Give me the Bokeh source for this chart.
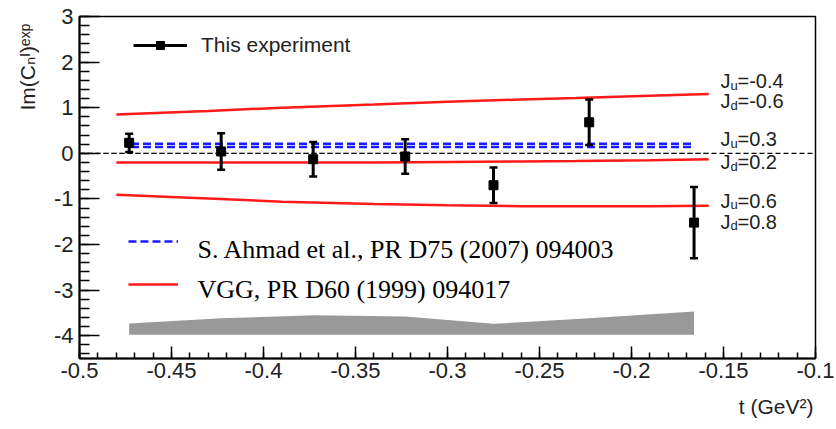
import math
from bokeh.plotting import figure
from bokeh.models import (Range1d, FixedTicker, Span, Label, Legend, LegendItem,
                          ColumnDataSource, Title)
from bokeh.embed import file_html
from bokeh.resources import INLINE

# ---------------- data ----------------
t = [-0.473, -0.423, -0.373, -0.323, -0.275, -0.223, -0.166]
im_c = [0.23, 0.04, -0.13, -0.07, -0.70, 0.68, -1.52]
im_err = [0.20, 0.40, 0.38, 0.38, 0.39, 0.50, 0.78]
sys_lo = [-3.98, -3.98, -3.98, -3.98, -3.98, -3.98, -3.98]
sys_hi = [-3.73, -3.62, -3.55, -3.58, -3.74, -3.62, -3.47]

vgg_t = [-0.48, -0.43, -0.39, -0.34, -0.30, -0.26, -0.23, -0.19, -0.158]
vgg_upper = [0.85, 0.93, 1.00, 1.07, 1.13, 1.18, 1.21, 1.26, 1.30]
vgg_middle = [-0.20, -0.20, -0.20, -0.20, -0.19, -0.18, -0.17, -0.15, -0.13]
vgg_lower = [-0.91, -0.99, -1.06, -1.11, -1.14, -1.16, -1.16, -1.16, -1.15]

ahmad_t = [-0.472, -0.166]
ahmad_a = [0.21, 0.21]
ahmad_b = [0.14, 0.14]

zero_t = [-0.5, -0.157]
zero_v = [0.0, 0.0]

xticks = [-0.5, -0.45, -0.4, -0.35, -0.3, -0.25, -0.2, -0.15, -0.1]
xtick_labels = ["-0.5", "-0.45", "-0.4", "-0.35", "-0.3", "-0.25", "-0.2", "-0.15", "-0.1"]
yticks = [-4, -3, -2, -1, 0, 1, 2, 3]
ytick_labels = ["-4", "-3", "-2", "-1", "0", "1", "2", "3"]

j_labels = [("u", "=-0.4"), ("d", "=-0.6"), ("u", "=0.3"), ("d", "=0.2"),
            ("u", "=0.6"), ("d", "=0.8")]

legend_texts = ["S. Ahmad et al., PR D75 (2007) 094003", "VGG, PR D60 (1999) 094017"]
y_title = "Im(C\u2099\u1d35)\u1d49\u02e3\u1d56"
x_title = "t (GeV\u00b2)"

# ---------------- geometry ----------------
X0, X1, Y0, Y1 = -0.5, -0.1, -4.5, 3.0
FL, FR, FT, FB = 79, 815, 16, 359   # frame in page pixels
FW, FH = FR - FL, FB - FT
W, H = 836, 429


def px_x(px):
    return X0 + (px - FL) / FW * (X1 - X0)


def px_y(py):
    return Y1 - (py - FT) / FH * (Y1 - Y0)


p = figure(width=W, height=H, output_backend="svg", toolbar_location=None,
           title_location=None,
           x_range=Range1d(X0, X1), y_range=Range1d(Y0, Y1),
           min_border_left=FL, min_border_right=W - FL - FW,
           min_border_top=FT, min_border_bottom=H - FT - FH)
p.grid.visible = False
p.outline_line_color = "black"
p.outline_line_width = 1.5
p.background_fill_color = "white"
p.border_fill_color = "white"

xminor = [round(-0.5 + 0.01 * i, 2) for i in range(41)]
yminor = [round(-4.4 + 0.2 * i, 1) for i in range(38)]
p.xaxis.ticker = FixedTicker(ticks=xticks, minor_ticks=xminor)
p.yaxis.ticker = FixedTicker(ticks=yticks, minor_ticks=yminor)
p.xaxis.major_label_overrides = dict(zip(xticks, xtick_labels))
p.yaxis.major_label_overrides = dict(zip(yticks, ytick_labels))

for ax in (p.xaxis, p.yaxis):
    ax.axis_line_width = 2
    ax.major_tick_line_width = 1.5
    ax.minor_tick_line_width = 1.5
    ax.major_tick_out = 0
    ax.minor_tick_out = 0
    ax.major_label_text_font = "Liberation Sans"
    ax.major_label_text_font_size = "22px"
    ax.major_label_text_color = "#222222"
p.xaxis.major_tick_in = 12
p.xaxis.minor_tick_in = 6
p.yaxis.major_tick_in = 20
p.yaxis.minor_tick_in = 10
p.xaxis.major_label_standoff = 4
p.yaxis.major_label_standoff = 6

# axis titles (outside the frame, ROOT style: at the far ends)
p.add_layout(Title(text=y_title, align="right", offset=7, standoff=24,
                   vertical_align="bottom",
                   text_font="Liberation Sans, DejaVu Sans", text_font_size="21px",
                   text_font_style="normal", text_color="#222222"), "left")
p.add_layout(Title(text=x_title, align="right", offset=2, standoff=24,
                   vertical_align="bottom", text_line_height=0.7,
                   text_font="Liberation Sans", text_font_size="21px",
                   text_font_style="normal", text_color="#222222"), "below")

# ---------------- marks ----------------
p.varea(x=t, y1=sys_lo, y2=sys_hi, fill_color="#999999")

vgg_r = p.line(vgg_t, vgg_upper, line_color="#ff1a1a", line_width=2.5)
p.line(vgg_t, vgg_middle, line_color="#ff1a1a", line_width=2.5)
p.line(vgg_t, vgg_lower, line_color="#ff1a1a", line_width=2.5)

p.add_layout(Span(location=0, dimension="width", line_color="black",
                  line_width=1.2, line_dash="5 3"))
p.line(zero_t, zero_v, line_color="black", line_width=1.2, line_dash="1 3")

ahm_r = p.line(ahmad_t, ahmad_a, line_color="#1a1aff", line_width=2.5, line_dash="8 4")
p.line(ahmad_t, ahmad_b, line_color="#1a1aff", line_width=2.5, line_dash="8 4")

src = ColumnDataSource(dict(
    t=t, v=im_c,
    lo=[v - e for v, e in zip(im_c, im_err)],
    hi=[v + e for v, e in zip(im_c, im_err)]))
err_r = p.segment(x0="t", y0="lo", x1="t", y1="hi", source=src,
                  line_color="black", line_width=3)
p.scatter(x="t", y="lo", marker="dash", size=8, line_width=2.5,
          line_color="black", source=src)
p.scatter(x="t", y="hi", marker="dash", size=8, line_width=2.5,
          line_color="black", source=src)
sq_r = p.scatter(x="t", y="v", marker="square", size=9, fill_color="black",
                 line_color="black", source=src)

# ---------------- legends ----------------
leg1 = Legend(items=[LegendItem(label="This experiment", renderers=[err_r, sq_r])],
              location=(133 - FL, FB - 58), glyph_width=54, glyph_height=20,
              label_height=20, label_standoff=14, padding=0, margin=0,
              label_text_font="Liberation Sans", label_text_font_size="21px",
              label_text_color="#222222",
              border_line_color=None, background_fill_alpha=0)
p.add_layout(leg1)

# model legend: line samples from the legend, captions as text set slightly lower
leg2 = Legend(items=[LegendItem(label=" ", renderers=[ahm_r]),
                     LegendItem(label=" ", renderers=[vgg_r])],
              location=(128 - FL, FB - 299.5), glyph_width=50, glyph_height=30,
              label_height=30, spacing=13, label_standoff=0, padding=0, margin=0,
              label_text_font_size="10px",
              border_line_color=None, background_fill_alpha=0)
p.add_layout(leg2)

for txt, base in zip(legend_texts, [250, 290]):
    p.add_layout(Label(x=px_x(197), y=px_y(base), text=txt,
                       text_align="left", text_baseline="alphabetic",
                       text_font="Liberation Serif", text_font_size="26px",
                       text_color="black"))

# ---------------- J labels on the right ----------------
def lab(px, py, text, size):
    p.add_layout(Label(x=px_x(px), y=px_y(py), text=text,
                       text_align="left", text_baseline="alphabetic",
                       text_font="Liberation Sans", text_font_size=f"{size}px",
                       text_color="#222222"))


baselines = [81, 101, 139, 162, 201, 222]
for (sub, rest), b in zip(j_labels, baselines):
    lab(720, b, "J", 20)
    lab(730, b + 4, sub, 13)
    lab(737, b, rest, 20)

open("out.html", "w").write(file_html(p, INLINE))
